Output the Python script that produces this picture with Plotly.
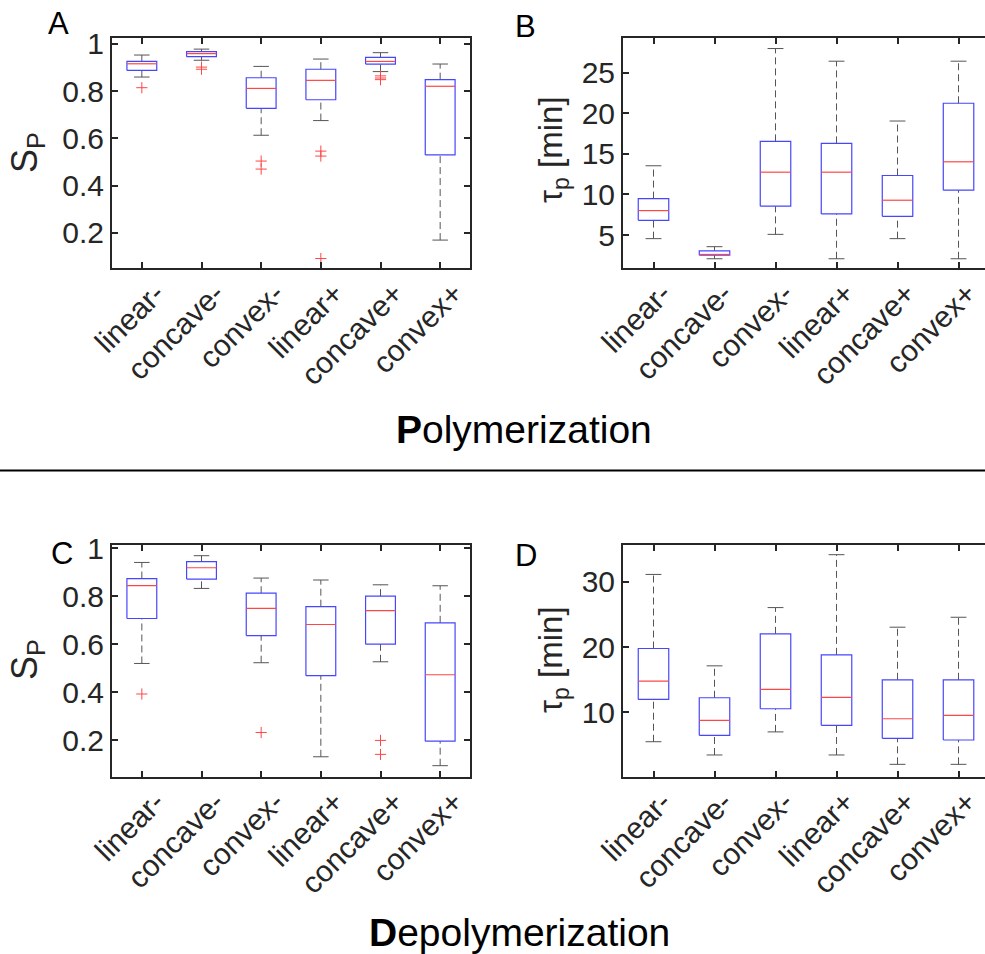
import plotly.graph_objects as go

W, H = 985, 954

cats = ["linear-", "concave-", "convex-", "linear+", "concave+", "convex+"]

# Panel A: S_P, polymerization
A_low = [0.859, 0.930, 0.613, 0.675, 0.882, 0.170]
A_q1 = [0.887, 0.945, 0.727, 0.763, 0.914, 0.530]
A_med = [0.915, 0.958, 0.811, 0.845, 0.925, 0.820]
A_q3 = [0.925, 0.966, 0.856, 0.892, 0.942, 0.848]
A_high = [0.952, 0.977, 0.904, 0.935, 0.962, 0.914]
A_out = [[0.814], [0.901, 0.892], [0.504, 0.470], [0.546, 0.525, 0.092], [0.864, 0.855, 0.848], []]

# Panel B: tau_p [min], polymerization
B_low = [4.55, 2.07, 5.08, 2.07, 4.55, 2.07]
B_q1 = [6.81, 2.50, 8.55, 7.60, 7.31, 10.53]
B_med = [8.01, 2.60, 12.75, 12.75, 9.29, 14.03]
B_q3 = [9.49, 3.05, 16.55, 16.30, 12.34, 21.25]
B_high = [13.54, 3.56, 28.00, 26.44, 19.06, 26.44]
B_out = [[], [], [], [], [], []]

# Panel C: S_P, depolymerization
C_low = [0.520, 0.832, 0.523, 0.132, 0.527, 0.095]
C_q1 = [0.707, 0.871, 0.636, 0.469, 0.600, 0.197]
C_med = [0.844, 0.918, 0.749, 0.682, 0.740, 0.473]
C_q3 = [0.873, 0.943, 0.812, 0.756, 0.800, 0.689]
C_high = [0.940, 0.968, 0.875, 0.867, 0.847, 0.843]
C_out = [[0.393], [], [0.233], [], [0.200, 0.142], []]

# Panel D: tau_p [min], depolymerization
D_low = [5.52, 3.49, 7.02, 3.49, 2.06, 2.06]
D_q1 = [11.98, 6.49, 10.56, 8.02, 6.03, 5.78]
D_med = [14.78, 8.78, 13.51, 12.29, 9.03, 9.54]
D_q3 = [19.77, 12.24, 22.01, 18.80, 14.99, 14.99]
D_high = [31.10, 17.12, 26.03, 34.12, 23.03, 24.55]
D_out = [[], [], [], [], [], []]

sp_ticks = [0.2, 0.4, 0.6, 0.8, 1.0]
sp_text = ["0.2", "0.4", "0.6", "0.8", "1"]
tB_ticks = [5, 10, 15, 20, 25]
tD_ticks = [10, 20, 30]

FONT = "Liberation Sans, Arial, sans-serif"
AX = "#262626"
BLUE = "rgb(70,70,255)"
RED = "rgb(255,70,70)"
WHISK = "#555555"

fig = go.Figure()


def add_panel(xa, ya, low, q1, med, q3, high, out):
    pos = list(range(1, len(cats) + 1))
    wx, wy, cx, cy, bx, by, mx, my, ox, oy = [], [], [], [], [], [], [], [], [], []
    for i, p in enumerate(pos):
        wx += [p, p, None, p, p, None]
        wy += [q3[i], high[i], None, low[i], q1[i], None]
        cx += [p - 0.13, p + 0.13, None, p - 0.13, p + 0.13, None]
        cy += [high[i], high[i], None, low[i], low[i], None]
        bx += [p - 0.25, p + 0.25, p + 0.25, p - 0.25, p - 0.25, None]
        by += [q1[i], q1[i], q3[i], q3[i], q1[i], None]
        mx += [p - 0.25, p + 0.25, None]
        my += [med[i], med[i], None]
        for v in out[i]:
            ox.append(p)
            oy.append(v)
    common = dict(xaxis=xa, yaxis=ya, mode="lines", showlegend=False, hoverinfo="skip")
    fig.add_trace(go.Scatter(x=wx, y=wy, line=dict(color=WHISK, width=1, dash="7px,4px"), **common))
    fig.add_trace(go.Scatter(x=cx, y=cy, line=dict(color=WHISK, width=1), **common))
    fig.add_trace(go.Scatter(x=bx, y=by, line=dict(color=BLUE, width=1.2), **common))
    fig.add_trace(go.Scatter(x=mx, y=my, line=dict(color=RED, width=1.2), **common))
    if ox:
        fig.add_trace(go.Scatter(x=ox, y=oy, xaxis=xa, yaxis=ya, mode="markers", showlegend=False,
                                 marker=dict(symbol="cross-thin", size=8, line=dict(color=RED, width=1))))


add_panel("x", "y", A_low, A_q1, A_med, A_q3, A_high, A_out)
add_panel("x2", "y2", B_low, B_q1, B_med, B_q3, B_high, B_out)
add_panel("x3", "y3", C_low, C_q1, C_med, C_q3, C_high, C_out)
add_panel("x4", "y4", D_low, D_q1, D_med, D_q3, D_high, D_out)


def px_x(a, b):
    return [a / W, b / W]


def px_y(top, bottom):
    return [1 - bottom / H, 1 - top / H]


tickfont = dict(family=FONT, size=30, color=AX)
axis_common = dict(showline=True, linewidth=2, linecolor=AX, ticks="inside", ticklen=6, tickwidth=1.5,
                   tickcolor=AX, showgrid=False, zeroline=False, tickfont=tickfont, automargin=False)
xcommon = dict(axis_common, tickvals=list(range(1, 7)), ticktext=cats, tickangle=-45, mirror="ticks",
               ticklabelshift=14, ticklabelstandoff=-6, ticklabeloverflow="allow")
xright = dict(xcommon, ticklabelshift=9)
ycommon = dict(axis_common, ticklabelstandoff=0)
rcommon = dict(ticks="inside", ticklen=3, tickwidth=1.5, tickcolor=AX, showline=False,
               showticklabels=False, showgrid=False, zeroline=False, automargin=False)

top_dom = px_y(38, 268)
bot_dom = px_y(545, 776.5)

fig.update_layout(
    width=W, height=H, margin=dict(l=0, r=0, t=0, b=0, pad=0, autoexpand=False),
    paper_bgcolor="white", plot_bgcolor="white",
    font=dict(family=FONT, color=AX),
    xaxis=dict(xcommon, domain=px_x(112, 470), range=[0.5, 6.5], anchor="y"),
    yaxis=dict(ycommon, domain=top_dom, range=[0.052, 1.024], anchor="x", mirror="ticks",
               tickvals=sp_ticks, ticktext=sp_text),
    xaxis2=dict(xright, domain=px_x(623, W), range=[0.5, 6.434], anchor="y2"),
    yaxis2=dict(ycommon, domain=top_dom, range=[0.93, 29.3], anchor="x2", mirror=False,
                tickvals=tB_ticks),
    yaxis5=dict(rcommon, overlaying="y2", anchor="x2", side="right", range=[0.93, 29.3], tickvals=tB_ticks),
    xaxis3=dict(xcommon, domain=px_x(112, 470), range=[0.5, 6.5], anchor="y3"),
    yaxis3=dict(ycommon, domain=bot_dom, range=[0.05, 1.0125], anchor="x3", mirror="ticks",
                tickvals=sp_ticks, ticktext=sp_text),
    xaxis4=dict(xright, domain=px_x(623, W), range=[0.5, 6.434], anchor="y4"),
    yaxis4=dict(ycommon, domain=bot_dom, range=[0.2, 35.6], anchor="x4", mirror=False,
                tickvals=tD_ticks),
    yaxis6=dict(rcommon, overlaying="y4", anchor="x4", side="right", range=[0.2, 35.6], tickvals=tD_ticks),
)


def ann(text, x, y, size, angle=0, color="black"):
    fig.add_annotation(text=text, x=x / W, y=1 - y / H, xref="paper", yref="paper",
                       xanchor="center", yanchor="middle", showarrow=False, textangle=angle,
                       font=dict(family=FONT, size=size, color=color))


ann("A", 58, 24, 31)
ann("B", 525, 27, 31)
ann("C", 62, 553, 31)
ann("D", 526, 555, 31)
ann("S<sub>P</sub>", 27, 153, 36, angle=-90, color=AX)
ann("S<sub>P</sub>", 27, 660, 36, angle=-90, color=AX)
ann("τ<sub>p</sub> [min]", 553, 150, 33, angle=-90, color=AX)
ann("τ<sub>p</sub> [min]", 553, 660, 33, angle=-90, color=AX)
ann("<b>P</b>olymerization", 524, 429, 39)
ann("<b>D</b>epolymerization", 519, 932, 39)

fig.add_shape(type="line", xref="paper", yref="paper", x0=0, x1=1, y0=1 - 470.5 / H, y1=1 - 470.5 / H,
              line=dict(color="black", width=2))

fig.write_html("out.html")
